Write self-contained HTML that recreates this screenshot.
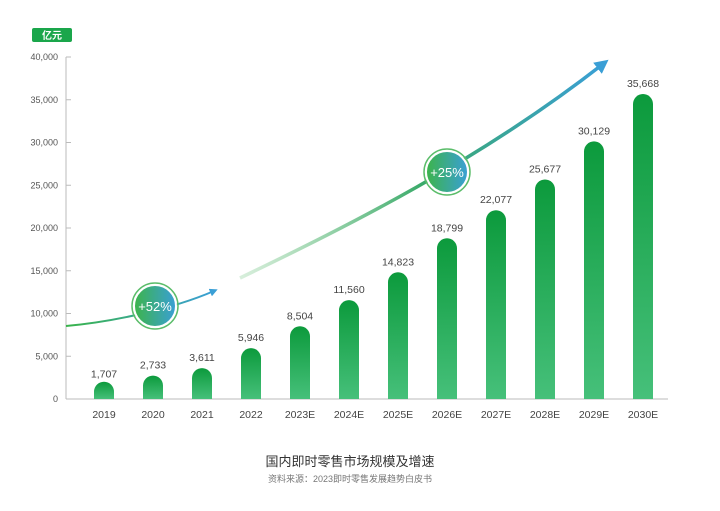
<!DOCTYPE html>
<html><head><meta charset="utf-8"><style>
body{margin:0;background:#fff;}
svg{display:block;font-family:"Liberation Sans","Noto Sans CJK SC",sans-serif;}
</style></head><body>
<svg id="c" width="720" height="511">
<defs>
<linearGradient id="bar" x1="0" y1="0" x2="0" y2="1"><stop offset="0" stop-color="#0c9a3c"/><stop offset="1" stop-color="#46c07a"/></linearGradient>
<linearGradient id="arr" x1="0" y1="0" x2="1" y2="0"><stop offset="0" stop-color="#39b34a"/><stop offset="1" stop-color="#3a9fd6"/></linearGradient>
<linearGradient id="arr2" x1="0" y1="0" x2="1" y2="0"><stop offset="0" stop-color="#7cc88a" stop-opacity="0.3"/><stop offset="0.5" stop-color="#3aaa6a"/><stop offset="1" stop-color="#3a9fd6"/></linearGradient>
<linearGradient id="circ" x1="0" y1="0" x2="1" y2="0"><stop offset="0" stop-color="#3cb44a"/><stop offset="1" stop-color="#3a9fd6"/></linearGradient>
<marker id="ah" markerWidth="4" markerHeight="4" refX="2" refY="2" orient="auto"><path d="M0,0 L4,2 L0,4 z" fill="#3a9fd6"/></marker>
</defs>
<rect x="32" y="28" width="40" height="14" rx="2" fill="#1aa64b"/>
<text x="52" y="39" font-size="10" fill="#fff" text-anchor="middle" font-weight="bold">亿元</text>
<g id="axis"></g>
<g id="bars"></g>
<path d="M66,326 C110,322 170,310 214,291" stroke="url(#arr)" stroke-width="2" fill="none" marker-end="url(#ah)"/>
<path d="M240,278 C350,225 480,160 603,64" stroke="url(#arr2)" stroke-width="3.5" fill="none" marker-end="url(#ah)"/>
<g>
<circle cx="155" cy="306" r="21" fill="url(#circ)" stroke="#fff" stroke-width="2"/><circle cx="155" cy="306" r="23" fill="none" stroke="#5bbd6a" stroke-width="1.5"/>
<text x="155" y="311" font-size="13" fill="#fff" text-anchor="middle">+52%</text></g>
<g>
<circle cx="447" cy="172" r="21" fill="url(#circ)" stroke="#fff" stroke-width="2"/><circle cx="447" cy="172" r="23" fill="none" stroke="#5bbd6a" stroke-width="1.5"/>
<text x="447" y="177" font-size="13" fill="#fff" text-anchor="middle">+25%</text></g>
<text x="350" y="466" font-size="13" fill="#333" text-anchor="middle">国内即时零售市场规模及增速</text>
<text x="350" y="482" font-size="9" fill="#777" text-anchor="middle">资料来源：2023即时零售发展趋势白皮书</text>
</svg>
<script>
const categories=["2019","2020","2021","2022","2023E","2024E","2025E","2026E","2027E","2028E","2029E","2030E"];
const values=[1707,2733,3611,5946,8504,11560,14823,18799,22077,25677,30129,35668];
const yTicks=[0,5000,10000,15000,20000,25000,30000,35000,40000];
const NS="http://www.w3.org/2000/svg";
const y0=399,y1=57,yMax=40000;
const y=v=>y0-(v/yMax)*(y0-y1);
const x=i=>104+i*49;
function mk(t,a,p){const e=document.createElementNS(NS,t);for(const k in a)e.setAttribute(k,a[k]);p.appendChild(e);return e;}
const ax=document.getElementById('axis'),bg=document.getElementById('bars');
const fmt=v=>v.toLocaleString('en-US');
let l=mk('line',{x1:66,y1:y1,x2:66,y2:y0,stroke:'#bbb'},ax);


l=mk('line',{x1:66,y1:y0,x2:668,y2:y0,stroke:'#bbb'},ax);


yTicks.forEach(v=>{
 mk('line',{x1:66,x2:71,y1:y(v),y2:y(v),stroke:'#bbb'},ax);
 const t=mk('text',{x:58,y:y(v)+3,'font-size':9,fill:'#555','text-anchor':'end'},ax);
 t.textContent=fmt(v);
 
 
});
values.forEach((v,i)=>{
 const w=20,h=y0-y(v),r=Math.min(10,h/2);
 const p=mk('path',{d:`M${x(i)-w/2},${y0} V${y(v)+r} A${r},${r} 0 0 1 ${x(i)+w/2},${y(v)+r} V${y0} Z`,fill:'url(#bar)'},bg);
 
 
 const t=mk('text',{x:x(i),y:y(v)-7,'font-size':10.5,fill:'#444','text-anchor':'middle'},bg);
 t.textContent=fmt(v);
 
 
 const c=mk('text',{x:x(i),y:418,'font-size':10.5,fill:'#444','text-anchor':'middle'},bg);
 c.textContent=categories[i];
 
 
});
</script>
</body></html>
